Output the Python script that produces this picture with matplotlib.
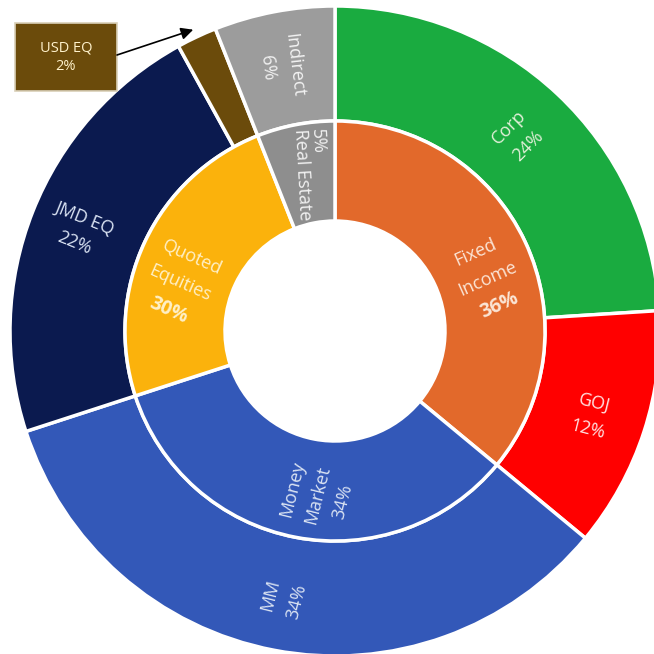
import numpy as np
import matplotlib.pyplot as plt
from matplotlib.patches import Rectangle

plt.rcParams['font.family'] = ['Open Sans', 'DejaVu Sans']

# outer ring: sub-classes
outer_names = ['Corp', 'GOJ', 'MM', 'JMD EQ', 'USD EQ', 'Indirect']
outer_vals = [24, 12, 34, 22, 2, 6]
outer_colors = ['#1aab40', '#ff0000', '#3358b8', '#0b1a4f', '#6b4b0b', '#9c9c9c']
outer_text = ['#e2f0d9', '#ffe3e3', '#dae3f3', '#dae3f3', '#fff2cc', '#f2f2f2']

# inner ring: asset classes (wedge size, printed label)
inner_names = [['Fixed', 'Income'], ['Money', 'Market'], ['Quoted', 'Equities'], ['Real Estate']]
inner_vals = [36, 34, 24, 6]
inner_labels = ['36%', '34%', '30%', '5%']
inner_colors = ['#e2692b', '#3358b8', '#fbb20c', '#8e8e8e']
inner_text = ['#fbe5d6', '#dae3f3', '#fff0c8', '#f2f2f2']

R_OUT, R_MID, R_IN = 325, 210, 110

fig = plt.figure(figsize=(6.54, 6.54), dpi=100)
ax = fig.add_axes([0, 0, 1, 1])

wp = dict(edgecolor='white', linewidth=2.5)
ax.pie(outer_vals, radius=R_OUT, colors=outer_colors, startangle=90,
       counterclock=False, wedgeprops=dict(width=R_OUT - R_MID, **wp))
ax.pie(inner_vals, radius=R_MID, colors=inner_colors, startangle=90,
       counterclock=False, wedgeprops=dict(width=R_MID - R_IN, **wp))


def block(cx, cy, lines, rot, gap, color, ha='center'):
    # lines: list of (text, fontsize, weight); stacked below each other in rotated frame
    t = np.radians(rot)
    down = np.array([np.sin(t), -np.cos(t)])
    n = len(lines)
    for i, (s, fs, fw) in enumerate(lines):
        off = (i - (n - 1) / 2) * gap
        ax.text(cx + off * down[0], cy + off * down[1], s, color=color,
                fontsize=fs, fontweight=fw, ha=ha, va='center',
                rotation=rot, rotation_mode='anchor')


def polar(r, a):
    return r * np.cos(np.radians(a)), r * np.sin(np.radians(a))


# outer labels (placement angle, radius, rotation)
out_ang = [46.7, -18.4, -101, 158.5, None, 101.5]
out_rad = [267, 270, 272, 275, None, 270]
out_rot = [45, -14, 76, -22, None, -83]
for i, (name, v) in enumerate(zip(outer_names, outer_vals)):
    if name == 'USD EQ':
        continue
    x, y = polar(out_rad[i], out_ang[i])
    block(x, y, [(name, 13, 'normal'), (f'{v}%', 13, 'normal')],
          out_rot[i], 27, outer_text[i])

# inner labels
x, y = polar(161, 19)
block(x, y, [('Fixed', 13, 'normal'), ('Income', 13, 'normal'),
             (inner_labels[0], 14, 'bold')], 24, 29, inner_text[0])
x, y = polar(165, -96)
block(x, y, [('Money', 13, 'normal'), ('Market', 13, 'normal'),
             (inner_labels[1], 13, 'normal')], 76, 26, inner_text[1])
x, y = polar(162, 163)
block(x, y, [('Quoted', 13, 'normal'), ('Equities', 13, 'normal'),
             (inner_labels[2], 14, 'bold')], -24, 29, inner_text[2])
# real estate: left aligned from the outer end
x, y = polar(204, 97.5)
block(x, y, [(inner_labels[3], 13, 'normal'), ('Real Estate', 13, 'normal')],
      -87, 17, inner_text[3], ha='left')

# USD EQ call-out box
usd_a = np.cumsum(outer_vals)[3] + outer_vals[4] / 2
usd_a = 90 - 3.6 * usd_a
box_x0, box_y0, box_w, box_h = -320, 240, 102, 68
ax.add_patch(Rectangle((box_x0, box_y0), box_w, box_h, facecolor='#6b4b0b',
                       edgecolor='#d9d0b8', linewidth=1.2, zorder=3))
ax.text(box_x0 + box_w / 2, box_y0 + box_h / 2, 'USD EQ\n2%', color='#fff2cc',
        fontsize=10.5, ha='center', va='center', zorder=4, linespacing=1.35)
ax.annotate('', xy=polar(333, usd_a),
            xytext=(box_x0 + box_w, box_y0 + box_h / 2 + 2),
            arrowprops=dict(arrowstyle='-|>', color='black', lw=1.2,
                            mutation_scale=18, shrinkA=0, shrinkB=0))

ax.set_xlim(-335, 319)
ax.set_ylim(-323, 331)
ax.set_aspect('equal')
ax.axis('off')

fig.savefig('out.png', dpi=100, facecolor='white')
